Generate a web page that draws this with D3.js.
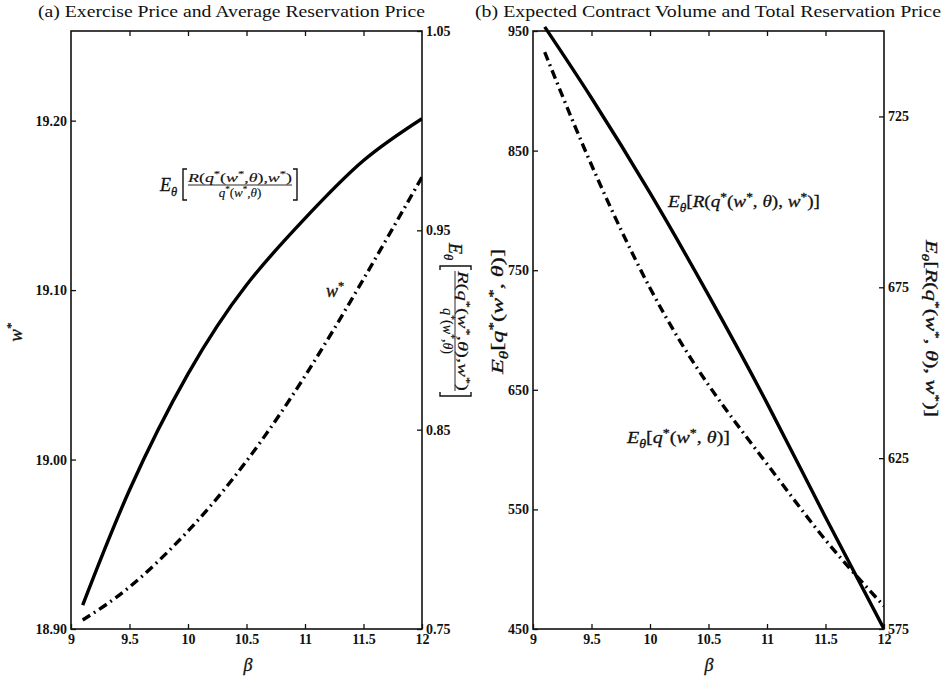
<!DOCTYPE html>
<html><head><meta charset="utf-8">
<script src="https://cdn.jsdelivr.net/npm/d3@7/dist/d3.min.js"></script>
<style>
body{margin:0;background:#fff;}
svg{display:block;}
</style></head>
<body>
<svg id="c" width="946" height="677"></svg>
<script>
// ---------- data ----------
const beta = [9.1, 9.5, 10, 10.5, 11, 11.5, 12];
// panel (a)
const wStar = [18.9053, 18.9248, 18.9578, 18.9991, 19.0493, 19.1065, 19.1667];
const avgResPrice = [0.762, 0.8197, 0.878, 0.9226, 0.956, 0.985, 1.006];
// panel (b)
const expVolume = [932.4, 838.0, 735.1, 654.0, 588.0, 524.4, 469.2];
const totalResPrice = [751.2, 730.4, 702.6, 672.7, 641.1, 607.7, 575.0];
// ticks
const xTicks = [9, 9.5, 10, 10.5, 11, 11.5, 12];
const aLeftTicks = [18.90, 19.00, 19.10, 19.20];
const aRightTicks = [0.75, 0.85, 0.95, 1.05];
const bLeftTicks = [450, 550, 650, 750, 850, 950];
const bRightTicks = [575, 625, 675, 725];
const titleA = "(a) Exercise Price and Average Reservation Price";
const titleB = "(b) Expected Contract Volume and Total Reservation Price";

// ---------- layout ----------
const FONT = '"Liberation Serif","Times New Roman",Tinos,"Nimbus Roman","DejaVu Serif",serif';
const svg = d3.select("#c");
const yTop = 31, yBot = 629;
const A = {l: 71, r: 422}, B = {l: 533, r: 884};

const xA = d3.scaleLinear().domain([9, 12]).range([A.l, A.r]);
const yAL = d3.scaleLinear().domain([18.90, 19.2529]).range([yBot, yTop]);
const yAR = d3.scaleLinear().domain([0.75, 1.05]).range([yBot, yTop]);
const xB = d3.scaleLinear().domain([9, 12]).range([B.l, B.r]);
const yBL = d3.scaleLinear().domain([450, 950]).range([yBot, yTop]);
const yBR = d3.scaleLinear().domain([575, 750]).range([yBot, yTop]);

const fmt2 = d3.format(".2f");

function styleAxis(g){
  g.attr("font-family", FONT);
  g.select(".domain").remove();
  g.selectAll(".tick line").attr("stroke", "#111").attr("stroke-width", 1.3);
  g.selectAll(".tick text").attr("font-size", 14).attr("font-weight", "bold")
    .style("font-family", FONT).attr("fill", "#111");
}

function panel(P, x, yL, yR, lt, rt, lfmt, rfmt, clipId){
  svg.append("rect").attr("x", P.l).attr("y", yTop).attr("width", P.r - P.l).attr("height", yBot - yTop)
    .attr("fill", "none").attr("stroke", "#111").attr("stroke-width", 1.6);
  svg.append("g").attr("transform", `translate(0,${yBot})`)
    .call(d3.axisBottom(x).tickValues(xTicks).tickSizeInner(-5).tickSizeOuter(0).tickPadding(5).tickFormat(d3.format("")))
    .call(styleAxis);
  svg.append("g").attr("transform", `translate(0,${yTop})`)
    .call(d3.axisTop(x).tickValues(xTicks.slice(1, -1)).tickSizeInner(-5).tickSizeOuter(0).tickFormat(""))
    .call(styleAxis);
  svg.append("g").attr("transform", `translate(${P.l},0)`)
    .call(d3.axisLeft(yL).tickValues(lt).tickSizeInner(-5).tickSizeOuter(0).tickPadding(4).tickFormat(lfmt))
    .call(styleAxis);
  svg.append("g").attr("transform", `translate(${P.r},0)`)
    .call(d3.axisRight(yR).tickValues(rt).tickSizeInner(-5).tickSizeOuter(0).tickPadding(4).tickFormat(rfmt))
    .call(styleAxis);
  svg.append("clipPath").attr("id", clipId).append("rect")
    .attr("x", P.l).attr("y", yTop - 6).attr("width", P.r - P.l).attr("height", yBot - yTop + 6);
}

panel(A, xA, yAL, yAR, aLeftTicks, aRightTicks, fmt2, fmt2, "clipA");
panel(B, xB, yBL, yBR, bLeftTicks, bRightTicks, d3.format("d"), d3.format("d"), "clipB");

function drawLine(x, y, vals, dashed, clip){
  const line = d3.line().x((d, i) => x(beta[i])).y(d => y(d)).curve(d3.curveNatural);
  svg.append("path").datum(vals).attr("d", line).attr("fill", "none")
    .attr("stroke", "#000").attr("stroke-width", 3.4)
    .attr("stroke-dasharray", dashed ? "9,4.5,1.8,4.5" : null)
    .attr("clip-path", `url(#${clip})`);
}
drawLine(xA, yAR, avgResPrice, false, "clipA");
drawLine(xA, yAL, wStar, true, "clipA");
drawLine(xB, yBR, totalResPrice, false, "clipB");
drawLine(xB, yBL, expVolume, true, "clipB");

// ---------- titles ----------
svg.append("text").attr("x", 38).attr("y", 17).attr("font-size", 17).style("font-family", FONT).attr("fill", "#111")
  .attr("textLength", 387).attr("lengthAdjust", "spacingAndGlyphs").text(titleA);
svg.append("text").attr("x", 475).attr("y", 17).attr("font-size", 17).style("font-family", FONT).attr("fill", "#111")
  .attr("textLength", 466).attr("lengthAdjust", "spacingAndGlyphs").text(titleB);

// ---------- math helpers ----------
function mathText(parent, x, y, parts, size, anchor, transform, len, sw){
  const t = parent.append("text").attr("x", x).attr("y", y).attr("font-size", size)
    .attr("text-anchor", anchor || "start").style("font-family", FONT)
    .attr("fill", "#111").attr("stroke", "#111").attr("stroke-width", sw == null ? 0.3 : sw);
  if (transform) t.attr("transform", transform);
  if (len) t.attr("textLength", len).attr("lengthAdjust", "spacingAndGlyphs");
  let shift = 0;
  parts.forEach(([s, k]) => {
    let target = 0, fs = size, it = "italic";
    if (k === "r") it = "normal";
    if (k === "sub") { target = size * 0.28; fs = size * 0.7; }
    if (k === "sup") { target = -size * 0.38; fs = size * 0.7; it = "normal"; }
    t.append("tspan").attr("dy", target - shift).attr("font-size", fs).attr("font-style", it).text(s);
    shift = target;
  });
  return t;
}
const ER = [["E","i"],["θ","sub"],["[","r"],["R","i"],["(","r"],["q","i"],["*","sup"],["(","r"],["w","i"],["*","sup"],[", ","r"],["θ","i"],["), ","r"],["w","i"],["*","sup"],[")]","r"]];
const EQ = [["E","i"],["θ","sub"],["[","r"],["q","i"],["*","sup"],["(","r"],["w","i"],["*","sup"],[", ","r"],["θ","i"],[")]","r"]];
const NUM = [["R","i"],["(","r"],["q","i"],["*","sup"],["(","r"],["w","i"],["*","sup"],[",","r"],["θ","i"],["),","r"],["w","i"],["*","sup"],[")","r"]];
const DEN = [["q","i"],["*","sup"],["(","r"],["w","i"],["*","sup"],[",","r"],["θ","i"],[")","r"]];
const WS = [["w","i"],["*","sup"]];

function fracLabel(transform, numW, fs){
  const g = svg.append("g").attr("transform", transform);
  mathText(g, 0, 6, [["E","i"],["θ","sub"]], 18, "start");
  const bx0 = 23, bx1 = bx0 + numW + 10;
  const br = (x, dir) => `M${x + 4*dir},-16 H${x} V15 H${x + 4*dir}`;
  g.append("path").attr("d", br(bx0, 1)).attr("fill", "none").attr("stroke", "#111").attr("stroke-width", 1.4);
  g.append("path").attr("d", br(bx1, -1)).attr("fill", "none").attr("stroke", "#111").attr("stroke-width", 1.4);
  const cx = (bx0 + bx1) / 2;
  mathText(g, cx, -3, NUM, fs, "middle", null, numW, 0.15);
  g.append("line").attr("x1", bx0 + 5).attr("x2", bx1 - 5).attr("y1", 0).attr("y2", 0).attr("stroke", "#111").attr("stroke-width", 0.9);
  mathText(g, cx, 12, DEN, fs, "middle", null, null, 0.15);
  return g;
}
// panel (a) annotations
fracLabel("translate(160,185)", 104, 13);
mathText(svg, 326, 297, WS, 18, "start");
fracLabel("translate(455,243) rotate(90)", 120, 14);
mathText(svg, 0, 0, WS, 19, "middle", "translate(22,332) rotate(-90)");
// x labels
mathText(svg, 248, 671, [["β","i"]], 18, "middle");
mathText(svg, 709, 671, [["β","i"]], 18, "middle");
// panel (b) annotations
mathText(svg, 668, 207, ER, 17, "start", null, 152);
mathText(svg, 627, 443, EQ, 17, "start", null, 103);
mathText(svg, 0, 0, EQ, 17, "start", "translate(503,374) rotate(-90)", 125);
mathText(svg, 0, 0, ER, 16, "start", "translate(926,240) rotate(90)", 177);
</script>
</body></html>
